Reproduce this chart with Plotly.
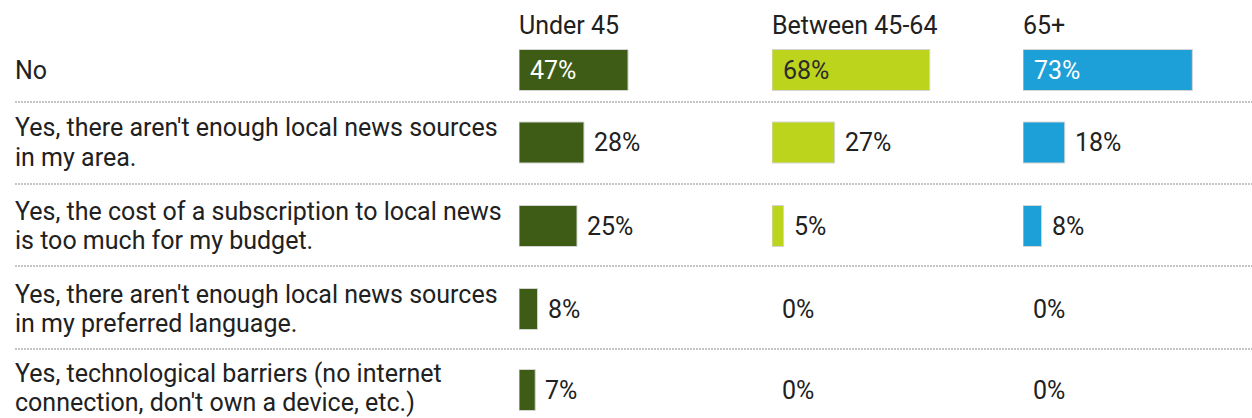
import plotly.graph_objects as go

# ---- data -------------------------------------------------------------
answers = [
    "No",
    "Yes, there aren't enough local news sources<br>in my area.",
    "Yes, the cost of a subscription to local news<br>is too much for my budget.",
    "Yes, there aren't enough local news sources<br>in my preferred language.",
    "Yes, technological barriers (no internet<br>connection, don't own a device, etc.)",
]
age_groups = ["Under 45", "Between 45-64", "65+"]
under_45 = [47, 28, 25, 8, 7]
between_45_64 = [68, 27, 5, 0, 0]
over_65 = [73, 18, 8, 0, 0]
series = [under_45, between_45_64, over_65]

# ---- styling / layout -------------------------------------------------
W, H = 1252, 418
FONT = "Roboto"
FS = 25
TEXT = "#212121"
bar_colors = ["#3e5c16", "#bcd41c", "#1d9fd8"]
inside_text_colors = ["#ffffff", "#2b2b2b", "#ffffff"]

col_left = [519, 772, 1023]        # left edge of each column (px)
col_width = 228                    # width of each column (px)
px_per_pct = 2.32                  # horizontal scale of the bars
bar_px = 41                        # bar thickness (px)
label_left = 15                    # left edge of the answer labels (px)

row_top = [38, 102, 184, 266, 349]
row_bottom = [102, 184, 266, 349, 418]
row_mid = [70, 142.5, 226, 309, 390]
line_gap = 29.5                    # distance between the two lines of a label
line_box = FS * 1.172              # height of one rendered text line


def px_x(p):
    return p / W


def px_y(p):
    return 1 - p / H


def note(**kw):
    base = dict(showarrow=False, borderpad=0, borderwidth=0,
                xanchor="left", yanchor="middle")
    base.update(kw)
    return base


fig = go.Figure()
layout = dict(
    width=W, height=H,
    margin=dict(l=0, r=0, t=0, b=0),
    paper_bgcolor="white", plot_bgcolor="white",
    showlegend=False,
    font=dict(family=FONT, size=FS, color=TEXT),
)
annotations = []
shapes = []

n = 0
for r, answer in enumerate(answers):
    for c, group in enumerate(age_groups):
        n += 1
        sfx = "" if n == 1 else str(n)
        value = series[c][r]
        fig.add_trace(go.Bar(
            x=[value], y=[answer], orientation="h", width=1,
            marker=dict(color=bar_colors[c],
                        line=dict(color="#d4d4d4", width=1 if value > 0 else 0)),
            xaxis=f"x{sfx}", yaxis=f"y{sfx}", hoverinfo="skip",
        ))
        layout[f"xaxis{sfx}"] = dict(
            domain=[px_x(col_left[c]), px_x(col_left[c] + col_width)],
            range=[0, col_width / px_per_pct],
            visible=False, fixedrange=True, anchor=f"y{sfx}",
        )
        layout[f"yaxis{sfx}"] = dict(
            domain=[px_y(row_bottom[r]), px_y(row_top[r])],
            range=[-(row_bottom[r] - row_mid[r]) / bar_px,
                   (row_mid[r] - row_top[r]) / bar_px],
            type="category",
            visible=False, fixedrange=True, anchor=f"x{sfx}",
        )
        # value label: inside the first row's bars, beside the bar elsewhere
        if r == 0:
            annotations.append(note(
                x=0, y=answer, xref=f"x{sfx}", yref=f"y{sfx}",
                text=f"{value}%", xshift=11,
                font=dict(color=inside_text_colors[c], size=FS),
            ))
        else:
            annotations.append(note(
                x=value, y=answer, xref=f"x{sfx}", yref=f"y{sfx}",
                text=f"{value}%", xshift=10,
                font=dict(color=TEXT, size=FS),
            ))

    # answer label, one annotation per text line, kept inside the page
    lines = answer.split("<br>")
    half = (len(lines) - 1) / 2 * line_gap
    mid = min(row_mid[r], H - half - line_box / 2 - 0.5)
    for i, line in enumerate(lines):
        offset = (i - (len(lines) - 1) / 2) * line_gap
        annotations.append(note(
            x=px_x(label_left), y=px_y(mid + offset),
            xref="paper", yref="paper", text=line,
            font=dict(color=TEXT, size=FS),
        ))

    # dotted separator under each row except the last
    if r < len(answers) - 1:
        shapes.append(dict(
            type="line", xref="paper", yref="paper",
            x0=px_x(label_left), x1=1,
            y0=px_y(row_bottom[r]), y1=px_y(row_bottom[r]),
            line=dict(color="#c4c4c4", width=2, dash="2px,1px"),
        ))

# column headers
for c, group in enumerate(age_groups):
    annotations.append(note(
        x=px_x(col_left[c]), y=px_y(25), xref="paper", yref="paper",
        text=group, font=dict(color=TEXT, size=FS),
    ))

layout["annotations"] = annotations
layout["shapes"] = shapes
fig.update_layout(**layout)
fig.write_html("out.html", config={"displayModeBar": False})
